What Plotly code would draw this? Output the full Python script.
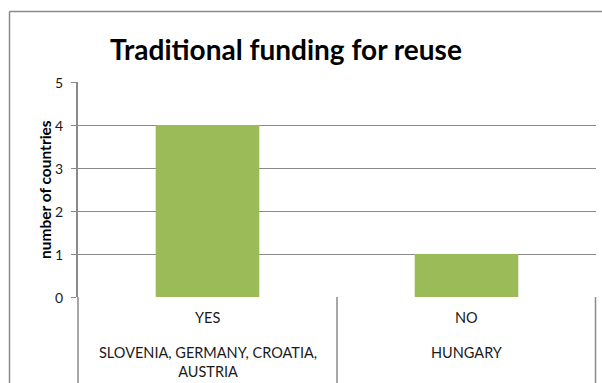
import plotly.graph_objects as go

# Data
answers = ["YES", "NO"]
countries = ["SLOVENIA, GERMANY, CROATIA,<br>AUSTRIA", "HUNGARY"]
counts = [4, 1]
y_ticks = [0, 1, 2, 3, 4, 5]

GRID = "#8a8a8a"
FONT = "Lato"

fig = go.Figure(
    go.Bar(
        x=answers,
        y=counts,
        width=0.4,
        marker=dict(color="#9bbb59", line=dict(width=0)),
        hoverinfo="skip",
    )
)

W, H = 602, 383
L, R, T, B = 78, 6, 82, 86
pw, ph = W - L - R, H - T - B

def px_x(px):
    return (px - L) / pw

def px_y(py):
    return (H - B - py) / ph

fig.update_layout(
    width=W,
    height=H,
    margin=dict(l=L, r=R, t=T, b=B),
    paper_bgcolor="white",
    plot_bgcolor="white",
    showlegend=False,
    font=dict(family=FONT, size=12, color="#000000"),
    title=dict(
        text="<b>Traditional funding for reuse</b>",
        x=286 / W,
        xanchor="center",
        y=1 - 50 / H,
        yanchor="middle",
        font=dict(family=FONT, size=28, color="#000000"),
    ),
)

fig.update_xaxes(
    type="category",
    range=[-0.5, 1.5],
    showticklabels=False,
    showgrid=False,
    showline=False,
    zeroline=False,
    ticks="",
    fixedrange=True,
)

fig.update_yaxes(
    range=[0, 5],
    tickvals=y_ticks,
    showticklabels=False,
    showgrid=True,
    gridcolor=GRID,
    gridwidth=1,
    showline=True,
    linecolor=GRID,
    linewidth=1.5,
    ticks="outside",
    ticklen=5,
    tickcolor=GRID,
    zeroline=False,
    fixedrange=True,
)

shapes = []
# category dividers below the axis, one at each category boundary
n = len(answers)
for i in range(n + 1):
    xp = min(i / n, px_x(595.5))
    shapes.append(dict(
        type="line", xref="paper", yref="paper",
        x0=xp, x1=xp, y0=0, y1=px_y(H + 5),
        line=dict(color=GRID, width=1.5),
    ))
# chart frame (left and top edges)
shapes.append(dict(
    type="line", xref="paper", yref="paper",
    x0=px_x(9.5), x1=px_x(9.5), y0=px_y(11.5), y1=px_y(H + 5),
    line=dict(color=GRID, width=1.5),
))
shapes.append(dict(
    type="line", xref="paper", yref="paper",
    x0=px_x(9.5), x1=px_x(W + 5), y0=px_y(11.5), y1=px_y(11.5),
    line=dict(color=GRID, width=1.5),
))
fig.update_layout(shapes=shapes)

# value labels on the y axis
annotations = [dict(
    x=px_x(65), xref="paper", y=v, yref="y",
    text=str(v), showarrow=False, xanchor="right", yanchor="middle",
    font=dict(family=FONT, size=14, color="#1a1a1a"),
) for v in y_ticks]

annotations.append(dict(
    x=px_x(44.5), xref="paper", y=0.5, yref="paper",
    text="<b>number of countries</b>", textangle=-90, showarrow=False,
    xanchor="center", yanchor="middle",
    font=dict(family=FONT, size=15.5, color="#000000"),
))
for a, c in zip(answers, countries):
    annotations.append(dict(
        x=a, xref="x", y=px_y(317), yref="paper",
        text=a, showarrow=False, xanchor="center", yanchor="middle",
        font=dict(family=FONT, size=14.5, color="#1a1a1a"),
    ))
    annotations.append(dict(
        x=a, xref="x", y=px_y(342), yref="paper",
        text=c, showarrow=False, xanchor="center", yanchor="top",
        font=dict(family=FONT, size=14.5, color="#1a1a1a"),
    ))
fig.update_layout(annotations=annotations)

fig.write_html("out.html")
